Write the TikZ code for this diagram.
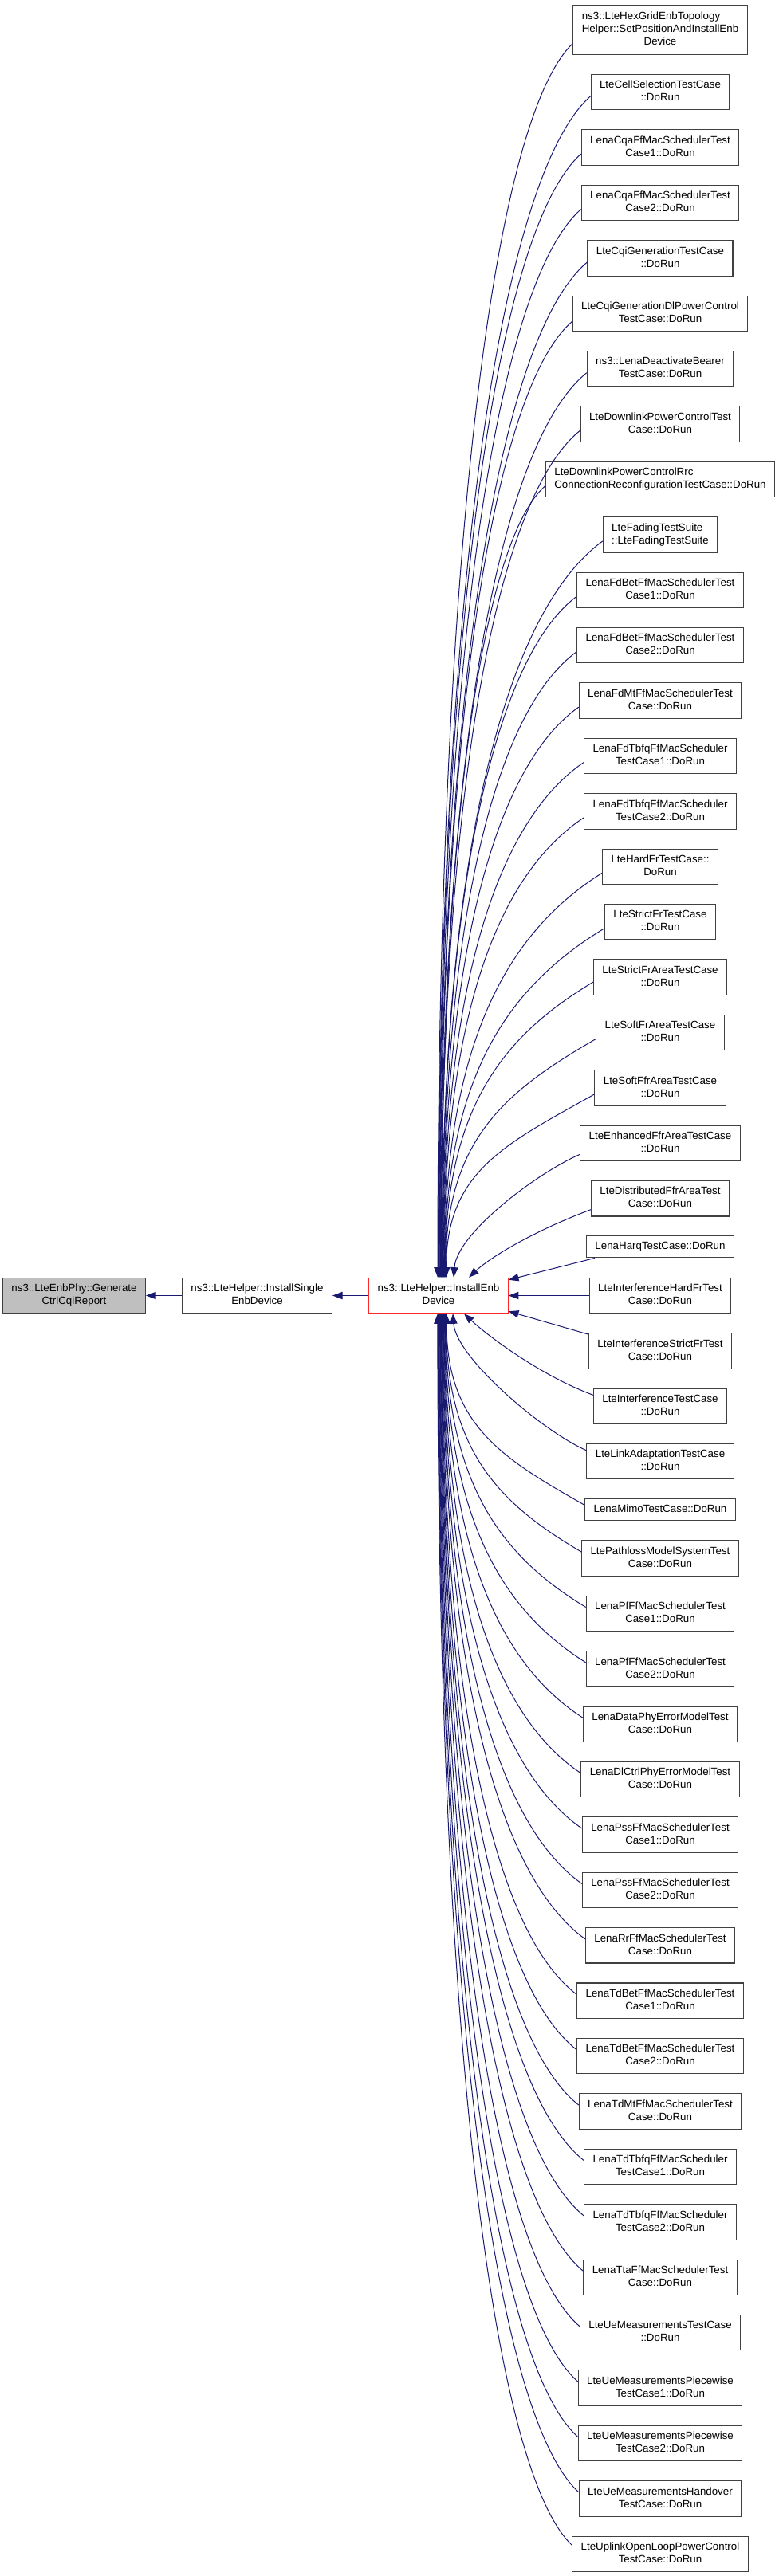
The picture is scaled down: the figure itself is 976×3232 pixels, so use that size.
\documentclass[tikz,border=0pt]{standalone}
\usepackage{fontspec}
\setmainfont{Liberation Sans}
\usetikzlibrary{arrows.meta,calc}
\definecolor{edgecol}{RGB}{25,25,112}
\definecolor{bordercol}{RGB}{64,64,64}
\definecolor{genfill}{RGB}{191,191,191}
\definecolor{redborder}{RGB}{255,40,40}
\newcommand\nlab[2]{\begin{tabular}{@{}l@{}}#1\\\multicolumn{1}{@{}c@{}}{#2}\end{tabular}}
\newcommand\olab[1]{\begin{tabular}{@{}c@{}}#1\end{tabular}}
\begin{document}
\begin{tikzpicture}[x=0.75pt,y=-0.75pt,
  box/.style={draw=bordercol, line width=0.8pt, fill=white, inner xsep=8.2pt, inner ysep=0pt, font=\fontsize{10}{12}\selectfont, minimum height=33.3pt},
  boxone/.style={box, minimum height=20.2pt},
  boxthree/.style={box, minimum height=46.4pt},
  conn/.style={draw=edgecol, line width=0.75pt, -{Triangle[length=9.5pt,width=7pt]}}
]
\useasboundingbox (0,0) rectangle (976,3232);

% left chain
\node[box, fill=genfill, minimum width=131.2pt] (gen) at (93,1625.5) {\nlab{ns3::LteEnbPhy::Generate}{CtrlCqiReport}};
\node[box, minimum width=139.5pt] (single) at (322.5,1625.5) {\nlab{ns3::LteHelper::InstallSingle}{EnbDevice}};
\node[box, draw=redborder, minimum width=129.7pt] (enb) at (550,1625.5) {\nlab{ns3::LteHelper::InstallEnb}{Device}};

% right column
\node[boxthree] (n1) at (828,37.5) {\nlab{ns3::LteHexGridEnbTopology\\Helper::SetPositionAndInstallEnb}{Device}};
\node[box] (n2) at (828,115.75) {\nlab{LteCellSelectionTestCase}{::DoRun}};
\node[box] (n3) at (828,185.15) {\nlab{LenaCqaFfMacSchedulerTest}{Case1::DoRun}};
\node[box] (n4) at (828,254.55) {\nlab{LenaCqaFfMacSchedulerTest}{Case2::DoRun}};
\node[box] (n5) at (828,323.95) {\nlab{LteCqiGenerationTestCase}{::DoRun}};
\node[box] (n6) at (828,393.35) {\nlab{LteCqiGenerationDlPowerControl}{TestCase::DoRun}};
\node[box] (n7) at (828,462.75) {\nlab{ns3::LenaDeactivateBearer}{TestCase::DoRun}};
\node[box] (n8) at (828,532.15) {\nlab{LteDownlinkPowerControlTest}{Case::DoRun}};
\node[box] (n9) at (828,601.55) {\nlab{LteDownlinkPowerControlRrc}{ConnectionReconfigurationTestCase::DoRun}};
\node[box] (n10) at (828,670.95) {\nlab{LteFadingTestSuite}{::LteFadingTestSuite}};
\node[box] (n11) at (828,740.35) {\nlab{LenaFdBetFfMacSchedulerTest}{Case1::DoRun}};
\node[box] (n12) at (828,809.75) {\nlab{LenaFdBetFfMacSchedulerTest}{Case2::DoRun}};
\node[box] (n13) at (828,879.15) {\nlab{LenaFdMtFfMacSchedulerTest}{Case::DoRun}};
\node[box] (n14) at (828,948.55) {\nlab{LenaFdTbfqFfMacScheduler}{TestCase1::DoRun}};
\node[box] (n15) at (828,1017.95) {\nlab{LenaFdTbfqFfMacScheduler}{TestCase2::DoRun}};
\node[box] (n16) at (828,1087.35) {\nlab{LteHardFrTestCase::}{DoRun}};
\node[box] (n17) at (828,1156.75) {\nlab{LteStrictFrTestCase}{::DoRun}};
\node[box] (n18) at (828,1226.15) {\nlab{LteStrictFrAreaTestCase}{::DoRun}};
\node[box] (n19) at (828,1295.55) {\nlab{LteSoftFrAreaTestCase}{::DoRun}};
\node[box] (n20) at (828,1364.95) {\nlab{LteSoftFfrAreaTestCase}{::DoRun}};
\node[box] (n21) at (828,1434.35) {\nlab{LteEnhancedFfrAreaTestCase}{::DoRun}};
\node[box] (n22) at (828,1503.75) {\nlab{LteDistributedFfrAreaTest}{Case::DoRun}};
\node[boxone] (n23) at (828,1564.4) {\olab{LenaHarqTestCase::DoRun}};
\node[box] (n24) at (828,1625.5) {\nlab{LteInterferenceHardFrTest}{Case::DoRun}};
\node[box] (n25) at (828,1694.9) {\nlab{LteInterferenceStrictFrTest}{Case::DoRun}};
\node[box] (n26) at (828,1764.3) {\nlab{LteInterferenceTestCase}{::DoRun}};
\node[box] (n27) at (828,1833.7) {\nlab{LteLinkAdaptationTestCase}{::DoRun}};
\node[boxone] (n28) at (828,1894.35) {\olab{LenaMimoTestCase::DoRun}};
\node[box] (n29) at (828,1955.0) {\nlab{LtePathlossModelSystemTest}{Case::DoRun}};
\node[box] (n30) at (828,2024.4) {\nlab{LenaPfFfMacSchedulerTest}{Case1::DoRun}};
\node[box] (n31) at (828,2093.8) {\nlab{LenaPfFfMacSchedulerTest}{Case2::DoRun}};
\node[box] (n32) at (828,2163.2) {\nlab{LenaDataPhyErrorModelTest}{Case::DoRun}};
\node[box] (n33) at (828,2232.6) {\nlab{LenaDlCtrlPhyErrorModelTest}{Case::DoRun}};
\node[box] (n34) at (828,2302.0) {\nlab{LenaPssFfMacSchedulerTest}{Case1::DoRun}};
\node[box] (n35) at (828,2371.4) {\nlab{LenaPssFfMacSchedulerTest}{Case2::DoRun}};
\node[box] (n36) at (828,2440.8) {\nlab{LenaRrFfMacSchedulerTest}{Case::DoRun}};
\node[box] (n37) at (828,2510.2) {\nlab{LenaTdBetFfMacSchedulerTest}{Case1::DoRun}};
\node[box] (n38) at (828,2579.6) {\nlab{LenaTdBetFfMacSchedulerTest}{Case2::DoRun}};
\node[box] (n39) at (828,2649.0) {\nlab{LenaTdMtFfMacSchedulerTest}{Case::DoRun}};
\node[box] (n40) at (828,2718.4) {\nlab{LenaTdTbfqFfMacScheduler}{TestCase1::DoRun}};
\node[box] (n41) at (828,2787.8) {\nlab{LenaTdTbfqFfMacScheduler}{TestCase2::DoRun}};
\node[box] (n42) at (828,2857.2) {\nlab{LenaTtaFfMacSchedulerTest}{Case::DoRun}};
\node[box] (n43) at (828,2926.6) {\nlab{LteUeMeasurementsTestCase}{::DoRun}};
\node[box] (n44) at (828,2996.0) {\nlab{LteUeMeasurementsPiecewise}{TestCase1::DoRun}};
\node[box] (n45) at (828,3065.4) {\nlab{LteUeMeasurementsPiecewise}{TestCase2::DoRun}};
\node[box] (n46) at (828,3134.8) {\nlab{LteUeMeasurementsHandover}{TestCase::DoRun}};
\node[box] (n47) at (828,3204.2) {\nlab{LteUplinkOpenLoopPowerControl}{TestCase::DoRun}};

% left connectors
\draw[conn] (single.west) -- (gen.east);
\draw[conn] (enb.west) -- (single.east);

% connectors from nodes above
\foreach \i/\sy/\ox in {1/17/-1, 2/5/-0.45, 3/8/0.1, 4/8/0.65, 5/5/1.2, 6/10/1.75, 7/5/2.3, 8/8/2.85, 9/8/3.4, 10/8/3.95, 11/8/4.5, 12/8/5.05, 13/8/5.6, 14/8/6.15, 15/8/6.7, 16/8/7.25, 17/8/7.8, 18/6/8.35, 19/8/8.9, 20/8/9.6} {
  \draw[conn] let \p0=($(n\i.west)+(0,\sy)$), \p3=($(enb.north)+(\ox,0)$), \n1={\x0-\x3}, \n2={\y0-\y3} in
    (\p0) .. controls (\x0-0.6*\n1, \y0-0.3*\n1-0.03*\n2) and (\x3, \y0-0.42*\n2) .. (\p3);
}
% near connectors
\draw[conn] ($(n21.west)+(0,14)$) .. controls +(-55,24) and +(4,-55) .. ($(enb.north)+(19,0)$);
\draw[conn] ($(n22.west)+(0,14)$) .. controls +(-65,24) and +(30,-28) .. ($(enb.north)+(38,0)$);
\draw[conn] ($(n23.south west)+(11,0)$) -- ($(enb.north east)+(0,3)$);
\draw[conn] (n24.west) -- (enb.east);
\draw[conn] ($(n25.north west)+(0,2)$) -- ($(enb.south east)+(0,-3)$);
\draw[conn] ($(n26.west)+(0,-14)$) .. controls +(-65,-24) and +(30,28) .. ($(enb.south)+(32,0)$);
\draw[conn] ($(n27.west)+(0,-14)$) .. controls +(-55,-24) and +(4,55) .. ($(enb.south)+(18,0)$);
% connectors from nodes below
\foreach \i/\sy/\ox in {28/-6/10, 29/-8/9.5, 30/-8/8.9, 31/-8/8.3, 32/-8/7.7, 33/-8/7.1, 34/-8/6.5, 35/-8/5.9, 36/-8/5.3, 37/-8/4.7, 38/-8/4.1, 39/-8/3.5, 40/-8/2.9, 41/-8/2.3, 42/-8/1.7, 43/-8/1.1, 44/-8/0.5, 45/-8/-0.1, 46/-8/-0.6, 47/-11/-1.1} {
  \draw[conn] let \p0=($(n\i.west)+(0,\sy)$), \p3=($(enb.south)+(\ox,0)$), \n1={\x0-\x3}, \n2={\y3-\y0} in
    (\p0) .. controls (\x0-0.6*\n1, \y0+0.3*\n1+0.03*\n2) and (\x3, \y0+0.42*\n2) .. (\p3);
}
\end{tikzpicture}
\end{document}
